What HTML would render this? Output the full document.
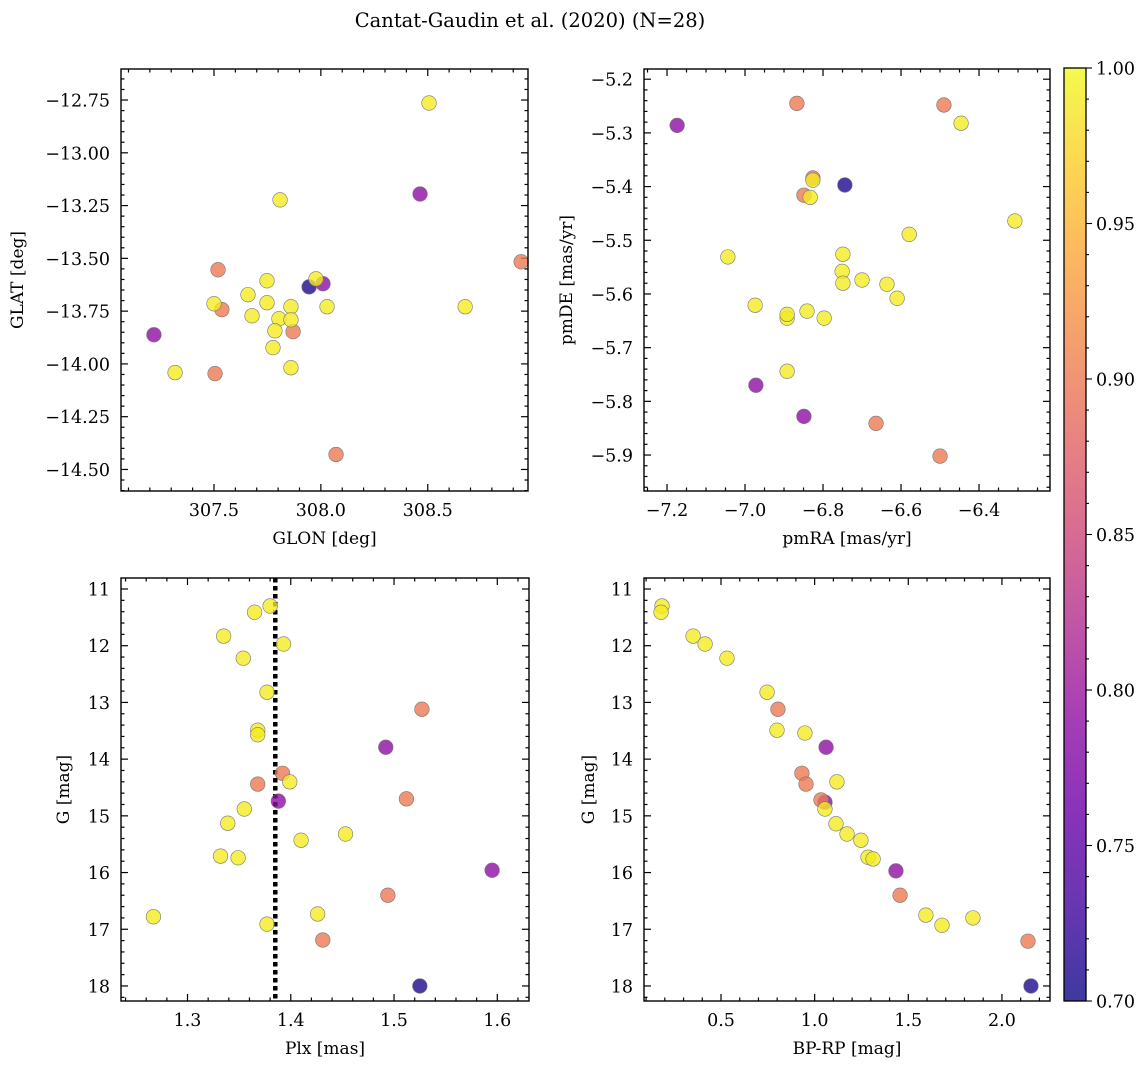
<!DOCTYPE html>
<html><head><meta charset="utf-8"><style>
html,body{margin:0;padding:0;background:#fff;}
svg{display:block;font-family:"DejaVu Serif","Liberation Serif",serif;}
</style></head><body>
<svg id="fig" width="1148" height="1068" viewBox="0 0 1148 1068" xmlns="http://www.w3.org/2000/svg">
<text x="530" y="27" text-anchor="middle" font-size="19.5">Cantat-Gaudin et al. (2020) (N=28)</text>
</svg>
<script>
// ---- data ----
const p1Glon=[308.506,307.809,308.464,308.937,307.519,307.748,307.977,307.945,308.010,307.659,307.5,307.748,307.860,308.029,308.675,307.537,307.678,307.804,307.860,307.785,307.870,307.219,307.776,307.318,307.505,307.860,308.071];
const p1Glat=[-12.764,-13.223,-13.195,-13.516,-13.554,-13.606,-13.597,-13.635,-13.620,-13.672,-13.715,-13.710,-13.729,-13.729,-13.729,-13.743,-13.772,-13.786,-13.791,-13.843,-13.847,-13.862,-13.923,-14.041,-14.046,-14.018,-14.429];
const p1Prob=[0.99,0.99,0.79,0.9,0.9,0.99,0.99,0.71,0.79,0.99,0.99,0.99,0.99,0.99,0.99,0.9,0.99,0.99,0.99,0.99,0.9,0.79,0.99,0.99,0.9,0.99,0.9];
const p2PmRA=[-7.174,-6.867,-6.490,-6.446,-6.826,-6.826,-6.849,-6.833,-6.744,-6.308,-6.579,-7.044,-6.749,-6.751,-6.700,-6.749,-6.636,-6.610,-6.841,-6.797,-6.974,-6.892,-6.892,-6.972,-6.892,-6.849,-6.664,-6.500];
const p2PmDE=[-5.286,-5.245,-5.248,-5.282,-5.384,-5.388,-5.416,-5.420,-5.397,-5.464,-5.489,-5.531,-5.526,-5.558,-5.574,-5.580,-5.582,-5.608,-5.632,-5.645,-5.621,-5.645,-5.638,-5.770,-5.744,-5.828,-5.841,-5.902];
const p2Prob=[0.79,0.9,0.9,0.99,0.9,0.99,0.9,0.99,0.71,0.99,0.99,0.99,0.99,0.99,0.99,0.99,0.99,0.99,0.99,0.99,0.99,0.99,0.99,0.79,0.99,0.79,0.9,0.9];
const p3Plx=[1.380,1.365,1.335,1.393,1.354,1.377,1.527,1.368,1.368,1.492,1.392,1.368,1.399,1.388,1.512,1.355,1.339,1.410,1.453,1.332,1.349,1.595,1.494,1.267,1.426,1.377,1.431,1.525];
const gMag=[11.30,11.41,11.83,11.97,12.22,12.82,13.12,13.49,13.57,13.79,14.25,14.44,14.40,14.74,14.70,14.88,15.13,15.43,15.32,15.71,15.74,15.96,16.40,16.78,16.73,16.91,17.19,18.0];
const p3Prob=[0.99,0.99,0.99,0.99,0.99,0.99,0.9,0.99,0.99,0.79,0.9,0.9,0.99,0.79,0.9,0.99,0.99,0.99,0.99,0.99,0.99,0.79,0.9,0.99,0.99,0.99,0.9,0.71];
const p4BpRp=[0.185,0.180,0.351,0.415,0.532,0.746,0.804,0.799,0.948,1.061,0.932,0.954,1.119,1.055,1.034,1.055,1.114,1.173,1.247,1.285,1.312,1.434,1.456,1.594,1.845,1.680,2.139,2.155];
const p4G=[11.30,11.41,11.83,11.97,12.22,12.82,13.12,13.49,13.54,13.79,14.25,14.44,14.40,14.76,14.72,14.88,15.14,15.32,15.43,15.73,15.76,15.97,16.40,16.75,16.80,16.93,17.21,18.0];
const p4Prob=[0.99,0.99,0.99,0.99,0.99,0.99,0.9,0.99,0.99,0.79,0.9,0.9,0.99,0.79,0.9,0.99,0.99,0.99,0.99,0.99,0.99,0.79,0.9,0.99,0.99,0.99,0.9,0.71];
const plxMean=1.385;
const cbTicks=[0.70,0.75,0.80,0.85,0.90,0.95,1.00];

const NS="http://www.w3.org/2000/svg";
const svg=document.getElementById('fig');
function mk(tag,attrs,parent){const e=document.createElementNS(NS,tag);for(const k in attrs)e.setAttribute(k,attrs[k]);(parent||svg).appendChild(e);return e;}
const stops=[[13,8,135],[65,4,157],[106,0,168],[143,13,164],[177,42,144],[204,71,120],[225,100,98],[242,132,75],[252,166,54],[252,206,37],[240,249,33]];
function plasma(t){t=Math.max(0,Math.min(1,t));const f=t*10,i=Math.min(9,Math.floor(f)),r=f-i;const a=stops[i],b=stops[i+1];return `rgb(${a.map((v,k)=>Math.round(v+(b[k]-v)*r)).join(',')})`;}
function cmap(v){return plasma((v-0.7)/0.3);}
function fmt(v,d){const s=Math.abs(v).toFixed(d);return (v<-1e-9?'\u2212':'')+s;}
const TF=17.5, LF=17;

function panel(o){
  const {L,R,T,B,xmin,xmax,ymin,ymax,yinv}=o;
  const X=v=>L+(v-xmin)/(xmax-xmin)*(R-L);
  const Y=v=>yinv? T+(v-ymin)/(ymax-ymin)*(B-T) : B-(v-ymin)/(ymax-ymin)*(B-T);
  const g=mk('g',{});
  
  
  const eps=1e-9;
  for(let v=Math.ceil(xmin/o.xminor-eps)*o.xminor;v<=xmax+eps;v+=o.xminor){
    const maj=Math.abs(v/o.xmajor-Math.round(v/o.xmajor))<1e-6,len=maj?7:3.5,x=X(v);
    mk('line',{x1:x,x2:x,y1:B,y2:B-len,stroke:'#000','stroke-width':1.2},g);
    mk('line',{x1:x,x2:x,y1:T,y2:T+len,stroke:'#000','stroke-width':1.2},g);
    if(maj){const t=mk('text',{x:x,y:B+25,'text-anchor':'middle','font-size':TF},g);t.textContent=fmt(Math.round(v/o.xmajor)*o.xmajor,o.xd);
      
      }
  }
  for(let v=Math.ceil(ymin/o.yminor-eps)*o.yminor;v<=ymax+eps;v+=o.yminor){
    const maj=Math.abs(v/o.ymajor-Math.round(v/o.ymajor))<1e-6,len=maj?7:3.5,y=Y(v);
    mk('line',{x1:L,x2:L+len,y1:y,y2:y,stroke:'#000','stroke-width':1.2},g);
    mk('line',{x1:R,x2:R-len,y1:y,y2:y,stroke:'#000','stroke-width':1.2},g);
    if(maj){const t=mk('text',{x:L-11,y:y+6.5,'text-anchor':'end','font-size':TF},g);t.textContent=fmt(Math.round(v/o.ymajor)*o.ymajor,o.yd);
      
      }
  }
  if(o.vline!==undefined){const l=mk('line',{x1:X(o.vline),x2:X(o.vline),y1:T,y2:B,stroke:'#000','stroke-width':4.5,'stroke-dasharray':'4.5 3.5'},g);
    
    }
  const idx=o.xs.map((_,i)=>i).sort((a,b)=>o.cs[a]-o.cs[b]);
  idx.forEach(i=>{const c=mk('circle',{cx:X(o.xs[i]),cy:Y(o.ys[i]),r:7.3,fill:cmap(o.cs[i]),'fill-opacity':0.8,stroke:'#777','stroke-width':0.6},g);
    
    });
  mk('rect',{x:L,y:T,width:R-L,height:B-T,fill:'none',stroke:'#000','stroke-width':1.4},g);
  const xl=mk('text',{x:(L+R)/2,y:B+53,'text-anchor':'middle','font-size':LF},g);xl.textContent=o.xlabel;
  
  
  const yx=o.ylx,yc=(T+B)/2;
  const yl=mk('text',{x:yx,y:yc,'text-anchor':'middle','font-size':LF,transform:`rotate(-90 ${yx} ${yc})`},g);yl.textContent=o.ylabel;
  
  
}
panel({name:'glon-glat-panel',L:121,R:528,T:69,B:491,xmin:307.065,xmax:308.969,ymin:-14.602,ymax:-12.603,xmajor:0.5,xminor:0.1,ymajor:0.25,yminor:0.05,xd:1,yd:2,xs:p1Glon,ys:p1Glat,cs:p1Prob,xlabel:'GLON [deg]',ylabel:'GLAT [deg]',ylx:23});
panel({name:'proper-motion-panel',L:644,R:1050,T:69,B:491,xmin:-7.259,xmax:-6.218,ymin:-5.967,ymax:-5.181,xmajor:0.2,xminor:0.05,ymajor:0.1,yminor:0.02,xd:1,yd:1,xs:p2PmRA,ys:p2PmDE,cs:p2Prob,xlabel:'pmRA [mas/yr]',ylabel:'pmDE [mas/yr]',ylx:572});
panel({name:'parallax-mag-panel',L:121,R:529,T:578,B:1001,xmin:1.2356,xmax:1.6307,ymin:10.806,ymax:18.265,yinv:true,xmajor:0.1,xminor:0.02,ymajor:1,yminor:0.2,xd:1,yd:0,xs:p3Plx,ys:gMag,cs:p3Prob,vline:plxMean,xlabel:'Plx [mas]',ylabel:'G [mag]',ylx:69});
panel({name:'cmd-panel',L:644,R:1050,T:578,B:1001,xmin:0.0889,xmax:2.2566,ymin:10.806,ymax:18.265,yinv:true,xmajor:0.5,xminor:0.1,ymajor:1,yminor:0.2,xd:1,yd:0,xs:p4BpRp,ys:p4G,cs:p4Prob,xlabel:'BP-RP [mag]',ylabel:'G [mag]',ylx:594});

// colorbar
const cb=mk('g',{});


const defs=mk('defs',{},cb);
const lg=mk('linearGradient',{id:'pl',x1:0,y1:1,x2:0,y2:0},defs);
for(let i=0;i<=10;i++)mk('stop',{offset:i/10,'stop-color':plasma(i/10)},lg);
const CT=68,CB=1001,CL=1064,CR=1086;
mk('rect',{x:CL,y:CT,width:CR-CL,height:CB-CT,fill:'url(#pl)','fill-opacity':0.8},cb);
mk('rect',{x:CL,y:CT,width:CR-CL,height:CB-CT,fill:'none',stroke:'#000','stroke-width':1.3},cb);
const CY=v=>CB-(v-0.7)/0.3*(CB-CT);
for(let k=0;k<=30;k++){const v=0.7+k*0.01,y=CY(v);const maj=k%5===0;
  mk('line',{x1:CR,x2:CR+(maj?6:3),y1:y,y2:y,stroke:'#000','stroke-width':1.1},cb);}
cbTicks.forEach(v=>{const t=mk('text',{x:CR+10,y:CY(v)+6.5,'font-size':TF},cb);t.textContent=v.toFixed(2);
  
  });
</script>
</body></html>
